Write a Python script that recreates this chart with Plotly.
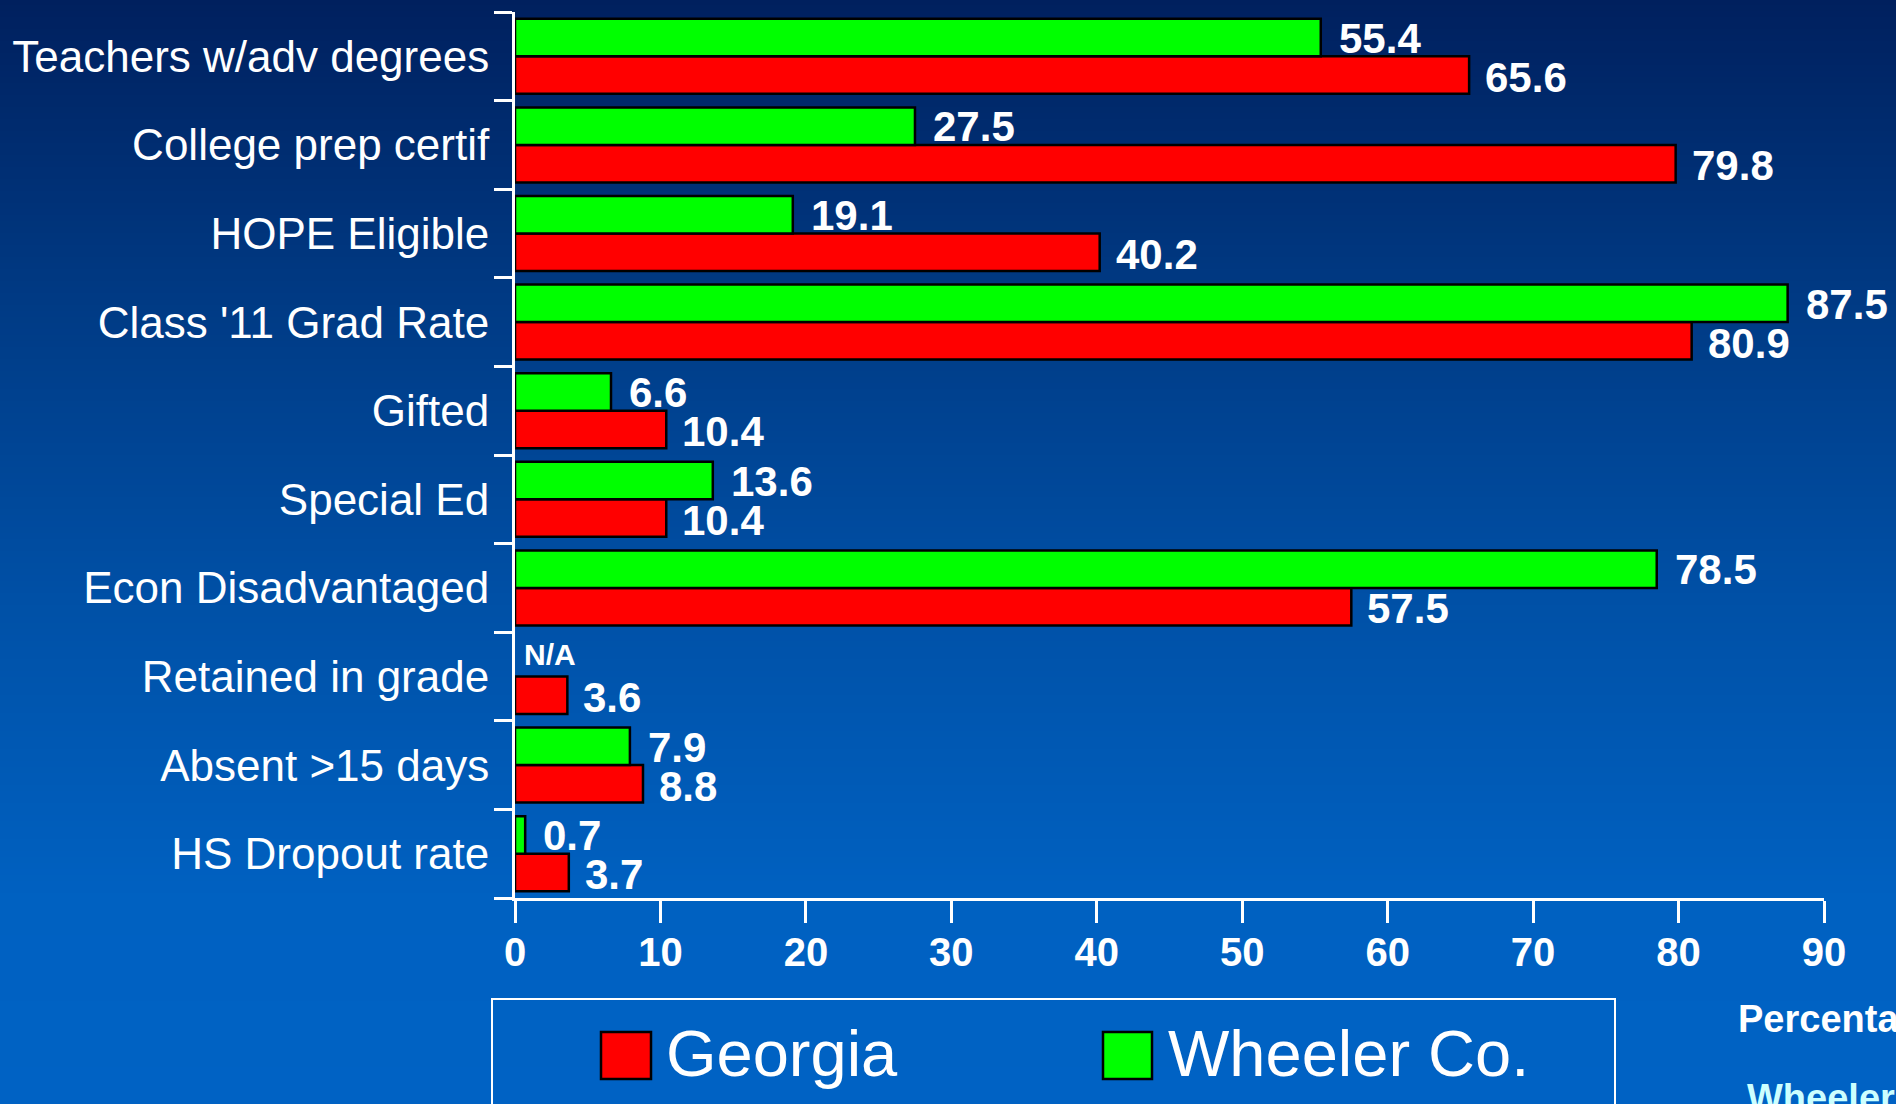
import plotly.graph_objects as go

# Data (top to bottom as shown on the slide)
categories = ["Teachers w/adv degrees", "College prep certif", "HOPE Eligible",
              "Class '11 Grad Rate", "Gifted", "Special Ed", "Econ Disadvantaged",
              "Retained in grade", "Absent >15 days", "HS Dropout rate"]
georgia = [65.6, 79.8, 40.2, 80.9, 10.4, 10.4, 57.5, 3.6, 8.8, 3.7]
wheeler = [55.4, 27.5, 19.1, 87.5, 6.6, 13.6, 78.5, None, 7.9, 0.7]
x_ticks = [0, 10, 20, 30, 40, 50, 60, 70, 80, 90]

W, H = 1896, 1104
L, R, T, B = 515, 72, 12, 206
PW, PH = W - L - R, H - T - B

FONT = "Liberation Sans, Arial, sans-serif"


def px_x(px):
    return (px - L) / PW


def px_y(py):
    return (H - B - py) / PH


fig = go.Figure()
fig.add_trace(go.Bar(y=categories, x=georgia, orientation="h", name="Georgia",
                     marker=dict(color="#ff0000", line=dict(color="black", width=2.5))))
fig.add_trace(go.Bar(y=categories, x=wheeler, orientation="h", name="Wheeler Co.",
                     marker=dict(color="#00ff00", line=dict(color="black", width=2.5))))

# value labels
annotations = []
for cat, g, w in zip(categories, georgia, wheeler):
    annotations.append(dict(x=g, y=cat, text=f"{g}", xanchor="left", yanchor="middle",
                            xshift=14, yshift=-21, showarrow=False,
                            font=dict(family=FONT, size=42, color="white", weight="bold")))
    if w is None:
        annotations.append(dict(x=0, y=cat, text="N/A", xanchor="left", yanchor="middle",
                                xshift=7, yshift=22, showarrow=False,
                                font=dict(family=FONT, size=30, color="white", weight="bold")))
    else:
        annotations.append(dict(x=w, y=cat, text=f"{w}", xanchor="left", yanchor="middle",
                                xshift=16, yshift=18, showarrow=False,
                                font=dict(family=FONT, size=42, color="white", weight="bold")))

# custom legend and cut-off notes at the bottom right
annotations += [
    dict(x=px_x(664), y=px_y(1053), xref="paper", yref="paper", text="Georgia",
         xanchor="left", yanchor="middle", showarrow=False,
         font=dict(family=FONT, size=65, color="white")),
    dict(x=px_x(1166), y=px_y(1053), xref="paper", yref="paper", text="Wheeler Co.",
         xanchor="left", yanchor="middle", showarrow=False,
         font=dict(family=FONT, size=65, color="white")),
    dict(x=px_x(1736), y=px_y(1019), xref="paper", yref="paper", text="Percentage",
         xanchor="left", yanchor="middle", showarrow=False,
         font=dict(family=FONT, size=38, color="white", weight="bold")),
    dict(x=px_x(1745), y=px_y(1098), xref="paper", yref="paper", text="Wheeler Co.",
         xanchor="left", yanchor="middle", showarrow=False,
         font=dict(family=FONT, size=38, color="#ccffff", weight="bold")),
]

# gradient background strips
stops = [(0, (0, 32, 94)), (300, (0, 58, 132)), (600, (0, 80, 166)),
         (900, (0, 97, 193)), (1104, (0, 98, 196))]


def grad(py):
    for (y0, c0), (y1, c1) in zip(stops[:-1], stops[1:]):
        if y0 <= py <= y1:
            t = (py - y0) / (y1 - y0)
            return "rgb(%d,%d,%d)" % tuple(round(a + (b - a) * t) for a, b in zip(c0, c1))
    return "rgb(0,98,196)"


shapes = []
step = 6
for py in range(0, H, step):
    shapes.append(dict(type="rect", xref="paper", yref="paper", layer="below",
                       x0=px_x(-5), x1=px_x(W + 5), y0=px_y(py - 1), y1=px_y(py + step),
                       line=dict(width=0), fillcolor=grad(py + step / 2)))

shapes += [
    dict(type="rect", xref="paper", yref="paper", x0=px_x(492), x1=px_x(1615),
         y0=px_y(999), y1=px_y(1130), line=dict(color="white", width=2)),
    dict(type="rect", xref="paper", yref="paper", x0=px_x(601), x1=px_x(651),
         y0=px_y(1032), y1=px_y(1079), fillcolor="#ff0000", line=dict(color="black", width=2.5)),
    dict(type="rect", xref="paper", yref="paper", x0=px_x(1103), x1=px_x(1152),
         y0=px_y(1032), y1=px_y(1079), fillcolor="#00ff00", line=dict(color="black", width=2.5)),
]

fig.update_layout(
    width=W, height=H, margin=dict(l=L, r=R, t=T, b=B, autoexpand=False),
    paper_bgcolor="rgb(0,98,196)", plot_bgcolor="rgba(0,0,0,0)",
    barmode="group", bargap=0.153, bargroupgap=0, hovermode=False,
    showlegend=False, annotations=annotations, shapes=shapes,
    xaxis=dict(range=[0, 90], tickvals=x_ticks, showgrid=False, zeroline=False,
               automargin=False, showline=True, linecolor="white", linewidth=3,
               ticks="outside", ticklen=22, tickwidth=3, tickcolor="white",
               ticklabelstandoff=-5,
               tickfont=dict(family=FONT, size=40, color="white", weight="bold")),
    yaxis=dict(type="category", categoryorder="array", categoryarray=categories[::-1],
               range=[-0.5, 9.5], tickson="boundaries", showgrid=False, zeroline=False,
               automargin=False, showline=True, linecolor="white", linewidth=3,
               ticks="outside", ticklen=18, tickwidth=3, tickcolor="white",
               ticklabelstandoff=14,
               tickfont=dict(family=FONT, size=44, color="white")),
)

# drop the browser's default page margin so the figure sits at the window corner
fig.write_html("out.html", config={"displayModeBar": False, "staticPlot": True},
               post_script="document.body.style.margin='0';"
                           "document.body.style.overflow='hidden';")
